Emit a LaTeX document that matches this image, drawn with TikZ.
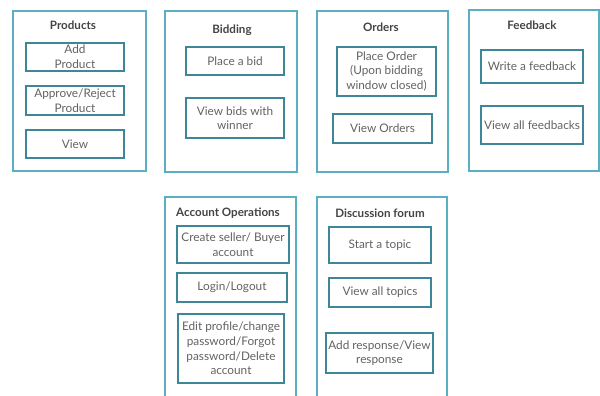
\documentclass[tikz,border=0pt]{standalone}
\usepackage{fontspec}
\setmainfont{Lato}
\definecolor{outerc}{HTML}{5AAFC2}
\definecolor{innerc}{HTML}{3E8799}
\definecolor{txt}{HTML}{626262}
\definecolor{ttl}{HTML}{444444}
\tikzset{
  group/.style={draw=outerc, line width=1.4pt, minimum width=#1, inner sep=0pt},
  item/.style={draw=innerc, line width=1.6pt, inner sep=0pt, align=center, text=txt,
    font=\fontsize{11.8}{14.6}\selectfont},
  ttlnode/.style={text=ttl, font=\fontsize{11.6}{13}\selectfont\bfseries, inner sep=0pt}
}
\begin{document}
\begin{tikzpicture}[x=1pt,y=-1pt]
\useasboundingbox (0,0) rectangle (600,396);
\clip (0,0) rectangle (600,396);
% outer group boxes
\node[group=133pt, minimum height=160pt] (products) at (79.5,91) {};
\node[group=132pt, minimum height=161pt] (bidding) at (231,91.5) {};
\node[group=131pt, minimum height=161pt] (orders) at (382.5,91.5) {};
\node[group=130pt, minimum height=161pt] (feedback) at (534,90.5) {};
\node[group=131pt, minimum height=213pt] (account) at (230.5,303.5) {};
\node[group=130pt, minimum height=213pt] (forum) at (382,303.5) {};
% titles
\node[ttlnode] (tproducts) at (73,25) {Products};
\node[ttlnode] (tbidding) at (232,30) {Bidding};
\node[ttlnode] (torders) at (381,27) {Orders};
\node[ttlnode] (tfeedback) at (532,25) {Feedback};
\node[ttlnode] (taccount) at (228,213) {Account Operations};
\node[ttlnode] (tforum) at (380,213) {Discussion forum};
% products
\node[item, minimum width=98pt, minimum height=28pt] (addp) at (75,57) {Add\\Product};
\node[item, minimum width=98pt, minimum height=29pt] (appr) at (75,100.5) {Approve/Reject\\Product};
\node[item, minimum width=98pt, minimum height=28pt] (view) at (75,144) {View};
% bidding
\node[item, minimum width=98pt, minimum height=28pt] (bid) at (235,61) {Place a bid};
\node[item, minimum width=98pt, minimum height=40pt] (vbids) at (235,118) {View bids with\\winner};
% orders
\node[item, minimum width=99pt, minimum height=49pt] (porder) at (386.5,71.5) {Place Order\\(Upon bidding\\window closed)};
\node[item, minimum width=99pt, minimum height=29pt] (vorders) at (382.5,128.5) {View Orders};
% feedback
\node[item, minimum width=102pt, minimum height=33pt] (wfb) at (532,66.5) {Write a feedback};
\node[item, minimum width=102pt, minimum height=38pt] (vfb) at (532,125) {View all feedbacks};
% account
\node[item, minimum width=112pt, minimum height=37pt] (create) at (233,244.5) {Create seller/ Buyer\\account};
\node[item, minimum width=110pt, minimum height=29pt] (login) at (232,287.5) {Login/Logout};
\node[item, minimum width=106pt, minimum height=69pt] (edit) at (231,348.5) {Edit profile/change\\password/Forgot\\password/Delete\\account};
% forum
\node[item, minimum width=102pt, minimum height=36pt] (start) at (380,245) {Start a topic};
\node[item, minimum width=102pt, minimum height=29pt] (vtopics) at (380,292.5) {View all topics};
\node[item, minimum width=107pt, minimum height=40pt] (resp) at (379.5,353) {Add response/View\\response};
\end{tikzpicture}
\end{document}
